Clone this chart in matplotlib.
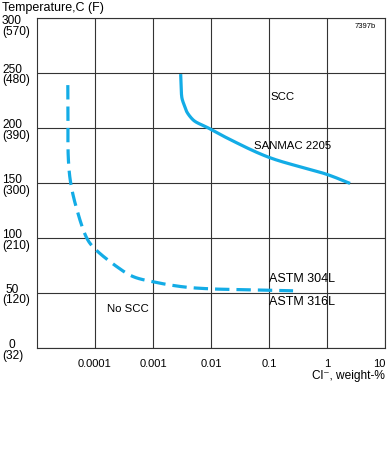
import matplotlib.pyplot as plt
import numpy as np

plt.rcParams['font.family'] = ['Liberation Sans', 'DejaVu Sans']

# SANMAC 2205 limit curve (solid)
sanmac_cl = [0.0030, 0.00305, 0.00316, 0.0035, 0.0038, 0.0045, 0.0053, 0.009,
             0.0196, 0.1, 1.0, 2.5]
sanmac_t = [249, 238, 227, 220, 215, 209.5, 206, 200, 190.5, 173.3, 157.8, 149.6]

# ASTM 304L / 316L limit curve (dashed)
astm_cl = [3.4e-5, 3.42e-5, 3.47e-5, 3.81e-5, 4.83e-5, 7.2e-5, 9.6e-5, 2.37e-4,
           4.5e-4, 1e-3, 3.3e-3, 9.6e-3, 0.047, 0.26]
astm_t = [239, 220, 172, 150, 126.5, 100, 91, 74, 65, 60.2, 55.6, 53.8, 52.9, 52]

x_ticks = [1e-4, 1e-3, 1e-2, 1e-1, 1, 10]
x_labels = ['0.0001', '0.001', '0.01', '0.1', '1', '10']
y_ticks = [0, 50, 100, 150, 200, 250, 300]
y_c = ['0', '50', '100', '150', '200', '250', '300']
y_f = ['(32)', '(120)', '(210)', '(300)', '(390)', '(480)', '(570)']

blue = '#13ACE6'

fig = plt.figure(figsize=(3.9, 4.53), dpi=100)
ax = fig.add_axes([37 / 390, 1 - 348 / 453, 348 / 390, 330 / 453])
ax.set_xscale('log')
ax.set_xlim(1e-5, 10)
ax.set_ylim(0, 300)

ax.set_xticks(x_ticks)
ax.set_xticklabels(x_labels, fontsize=8)
ax.get_xticklabels()[-1].set_horizontalalignment('right')
ax.xaxis.set_minor_locator(plt.NullLocator())
ax.set_yticks(y_ticks)
ax.set_yticklabels([])
ax.tick_params(length=0, pad=8)
ax.grid(True, color='#333333', linewidth=0.8)
for s in ax.spines.values():
    s.set_color('#333333')
    s.set_linewidth(0.8)

# two-line temperature labels: C on top of F
for yt, c, f in zip(y_ticks, y_c, y_f):
    yp = 348 - yt * 330 / 300
    if yt == 300:
        yp += 6
    fig.text(12 / 390, 1 - yp / 453, c, fontsize=8.6, ha='center', va='baseline')
    fig.text(2 / 390, 1 - (yp + 10.5) / 453, f, fontsize=8.6, ha='left', va='baseline')


# smooth the read-off points (centripetal Catmull-Rom, log-x / y space)
def smooth(xs, ys, n=25):
    p = np.column_stack([np.log10(xs) / 6.0, np.array(ys, float) / 330.0])
    p = np.vstack([2 * p[0] - p[1], p, 2 * p[-1] - p[-2]])
    out = []
    for i in range(1, len(p) - 2):
        P0, P1, P2, P3 = p[i - 1], p[i], p[i + 1], p[i + 2]
        t0 = 0.0
        t1 = t0 + np.linalg.norm(P1 - P0) ** 0.5
        t2 = t1 + np.linalg.norm(P2 - P1) ** 0.5
        t3 = t2 + np.linalg.norm(P3 - P2) ** 0.5
        t = np.linspace(t1, t2, n, endpoint=False)[:, None]
        A1 = (t1 - t) / (t1 - t0) * P0 + (t - t0) / (t1 - t0) * P1
        A2 = (t2 - t) / (t2 - t1) * P1 + (t - t1) / (t2 - t1) * P2
        A3 = (t3 - t) / (t3 - t2) * P2 + (t - t2) / (t3 - t2) * P3
        B1 = (t2 - t) / (t2 - t0) * A1 + (t - t0) / (t2 - t0) * A2
        B2 = (t3 - t) / (t3 - t1) * A2 + (t - t1) / (t3 - t1) * A3
        out.append((t2 - t) / (t2 - t1) * B1 + (t - t1) / (t2 - t1) * B2)
    out.append(p[-2][None, :])
    out = np.vstack(out)
    return 10 ** (out[:, 0] * 6.0), out[:, 1] * 330.0


sx, sy = smooth(sanmac_cl, sanmac_t)
ax.plot(sx, sy, color=blue, lw=2.3, solid_capstyle='butt')
dx, dy = smooth(astm_cl, astm_t)
ax.plot(dx, dy, color=blue, lw=2.3, dashes=(4.5, 2.2))

ax.text(0.174, 228, 'SCC', fontsize=8.2, ha='center', va='center')
ax.text(0.055, 184, 'SANMAC 2205', fontsize=8.2, ha='left', va='center')
ax.text(0.102, 63, 'ASTM 304L', fontsize=9, ha='left', va='center')
ax.text(0.102, 42, 'ASTM 316L', fontsize=9, ha='left', va='center')
ax.text(1.6e-4, 35.6, 'No SCC', fontsize=8.2, ha='left', va='center')

fig.text(2 / 390, 1 - 8 / 453, 'Temperature,C (F)', fontsize=9, ha='left', va='center')
fig.text(376 / 390, 1 - 26 / 453, '7397b', fontsize=5.5, ha='right', va='center')
fig.text(385 / 390, 1 - 376 / 453, 'Cl⁻, weight-%', fontsize=8.6, ha='right', va='center')

fig.savefig('out.png', dpi=100)
